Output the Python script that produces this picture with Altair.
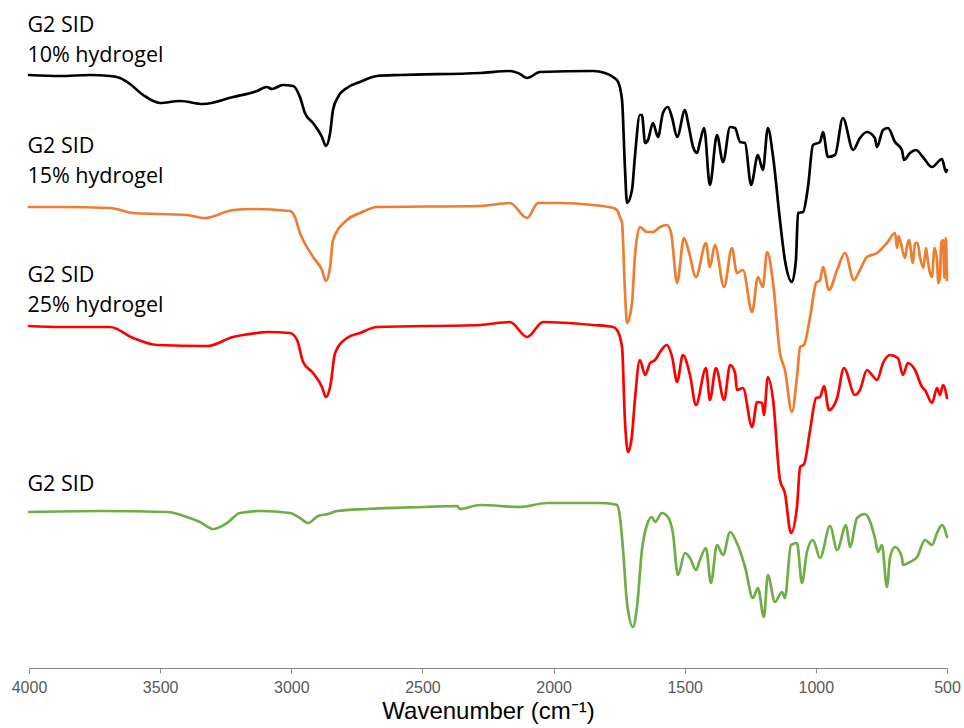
import altair as alt
import pandas as pd

# FTIR spectra (wavenumber cm-1, offset transmittance in arbitrary units)
g2_10 = [(4000,593),(3882,592),(3767,593),(3691,592),(3653,590),(3615,584),(3565,573),(3501,565),(3424,567),(3337,564),
         (3222,571),(3131,577),(3093,581),(3074,579),(3032,583),(2993,582),(2967,571),(2948,555),(2917,545),(2883,531),
         (2868,522),(2852,535),(2841,558),(2822,571),(2788,580),(2738,586),(2673,592),(2585,593),(2280,595),(2166,597),
         (2128,594),(2101,590),(2052,596),(1850,597),(1804,595),(1773,591),(1754,586),(1739,568),(1728,501),(1720,465),
         (1701,478),(1690,511),(1671,553),(1663,553),(1651,525),(1640,528),(1621,545),(1602,531),(1583,555),(1564,561),
         (1548,550),(1529,531),(1499,558),(1487,545),(1468,521),(1453,515),(1442,526),(1426,540),(1404,483),(1377,533),
         (1354,506),(1327,541),(1308,540),(1289,526),(1270,525),(1247,483),(1221,513),(1202,498),(1183,540),(1163,511),
         (1137,448),(1118,408),(1091,386),(1076,408),(1068,455),(1049,456),(1030,481),(1011,523),(984,526),(973,536),
         (954,511),(927,513),(897,550),(858,518),(832,530),(805,536),(775,530),(767,521),(744,538),(725,540),
         (698,526),(672,518),(664,508),(641,515),(618,518),(592,511),(557,501),(519,509),(504,496),(500,498)]

g2_15 = [(4000,461),(3882,461),(3691,460),(3603,455),(3501,454),(3398,453),(3329,450),(3222,458),(3146,459),(3005,457),
         (2986,451),(2967,435),(2955,428),(2917,411),(2883,398),(2868,387),(2852,401),(2841,428),(2788,448),(2738,455),
         (2673,461),(2280,462),(2166,465),(2101,450),(2059,465),(1976,465),(1850,463),(1773,460),(1758,458),(1747,451),
         (1739,445),(1728,378),(1720,345),(1701,365),(1690,411),(1671,441),(1644,436),(1621,436),(1594,441),(1568,443),
         (1552,435),(1529,385),(1503,430),(1484,416),(1457,391),(1419,425),(1404,401),(1385,423),(1350,381),(1320,420),
         (1301,395),(1278,398),(1243,356),(1221,391),(1202,381),(1186,416),(1163,385),(1137,315),(1118,298),(1091,256),
         (1072,291),(1060,321),(1045,323),(1022,351),(999,385),(984,388),(973,401),(950,378),(919,398),(889,415),
         (855,388),(832,398),(805,411),(767,415),(729,425),(698,435),(690,420),(685,432),(679,428),(660,410),
         (653,421),(645,428),(630,405),(622,425),(612,425),(603,411),(590,400),(580,420),(576,413),(565,395),
         (557,391),(548,420),(538,408),(533,385),(527,390),(522,425),(515,428),(510,390),(505,430),(500,388)]

g2_25 = [(4000,342),(3882,341),(3691,341),(3603,330),(3512,323),(3321,322),(3222,331),(3131,335),(3093,336),(3005,335),
         (2978,328),(2955,306),(2917,295),(2883,281),(2868,271),(2852,281),(2833,315),(2788,330),(2738,335),(2673,341),
         (2280,343),(2166,346),(2101,331),(2040,346),(1850,343),(1773,341),(1758,338),(1739,321),(1728,248),(1716,216),
         (1701,233),(1690,268),(1671,308),(1651,293),(1632,305),(1613,308),(1594,316),(1568,323),(1548,311),(1529,286),
         (1507,313),(1480,293),(1457,263),(1419,300),(1404,268),(1381,300),(1350,268),(1327,303),(1308,295),(1301,278),
         (1278,280),(1243,241),(1224,266),(1205,265),(1198,253),(1183,291),(1163,268),(1137,188),(1118,175),(1095,135),
         (1072,161),(1060,201),(1045,204),(1022,238),(999,270),(984,271),(969,282),(950,258),(919,270),(893,300),
         (851,273),(832,278),(805,298),(786,293),(767,288),(744,305),(717,313),(687,310),(668,293),(649,305),
         (622,298),(595,281),(584,278),(557,265),(538,280),(527,273),(515,283),(500,270)]

g2_sid = [(4000,156),(3729,157),(3474,156),(3398,151),(3348,146),(3298,139),(3245,145),(3196,155),(3119,157),(3005,155),
          (2967,150),(2936,145),(2898,152),(2860,154),(2826,157),(2711,159),(2498,161),(2368,162),(2357,159),(2280,163),
          (2128,161),(2025,165),(1823,165),(1773,164),(1758,163),(1747,151),(1735,118),(1720,65),(1697,41),(1682,61),
          (1663,118),(1644,143),(1625,151),(1613,146),(1587,155),(1564,151),(1545,135),(1526,93),(1499,115),(1480,110),
          (1457,98),(1442,108),(1419,120),(1400,85),(1377,123),(1354,113),(1327,136),(1301,125),(1270,101),(1240,70),
          (1221,80),(1198,51),(1183,93),(1156,66),(1129,76),(1118,70),(1095,123),(1072,125),(1053,85),(1034,116),
          (1011,128),(984,110),(946,142),(919,118),(885,143),(870,121),(843,150),(813,154),(801,151),(775,130),
          (763,116),(748,123),(729,81),(717,111),(698,121),(672,111),(668,103),(641,106),(614,111),(584,128),
          (557,123),(538,135),(519,143),(500,131)]

series_names = ["G2 SID 10% hydrogel", "G2 SID 15% hydrogel", "G2 SID 25% hydrogel", "G2 SID"]
series_colors = ["#000000", "#ED7D31", "#FF0000", "#70AD47"]
series_data = [g2_10, g2_15, g2_25, g2_sid]

label_lines = ["G2 SID", "10% hydrogel", "G2 SID", "15% hydrogel", "G2 SID", "25% hydrogel", "G2 SID"]
label_y = [636, 606, 515, 485, 386, 356, 177]

rows = []
for name, pts in zip(series_names, series_data):
    for w, v in pts:
        rows.append({"series": name, "wavenumber": w, "value": v})
df = pd.DataFrame(rows)

labels = pd.DataFrame({"text": label_lines, "y": label_y, "x": [4006] * len(label_lines)})

x_scale = alt.Scale(domain=[500, 4000], reverse=True, nice=False, zero=False)
y_scale = alt.Scale(domain=[0, 660], nice=False, zero=False)

lines = alt.Chart(df).mark_line(strokeWidth=2.7, clip=False, interpolate="monotone",
                                strokeJoin="round", strokeCap="round").encode(
    x=alt.X("wavenumber:Q", scale=x_scale,
            axis=alt.Axis(title="Wavenumber (cm⁻¹)", values=[4000, 3500, 3000, 2500, 2000, 1500, 1000, 500],
                          format="d",
                          grid=False, domainColor="#888888", tickColor="#888888", tickSize=5,
                          labelColor="#595959", labelFontSize=16, labelFont="Liberation Sans",
                          labelPadding=6, labelFlush=False,
                          titleFont="Liberation Sans", titleFontSize=24, titleFontWeight="normal",
                          titleColor="#000000", titlePadding=4)),
    y=alt.Y("value:Q", scale=y_scale, axis=None),
    color=alt.Color("series:N", scale=alt.Scale(domain=series_names, range=series_colors), legend=None),
    detail="series:N",
)

text = alt.Chart(labels).mark_text(align="left", baseline="alphabetic", font="Open Sans",
                                   fontSize=21.5, color="#000000").encode(
    x=alt.X("x:Q", scale=x_scale),
    y=alt.Y("y:Q", scale=y_scale),
    text="text:N",
)

chart = alt.layer(lines, text).properties(
    width=918, height=660,
    padding={"left": 29, "top": 8, "right": 17, "bottom": 60},
    autosize="none",
    background="white",
).configure_view(stroke=None)

chart.save("out.html", embed_options={"renderer": "svg", "actions": False})
